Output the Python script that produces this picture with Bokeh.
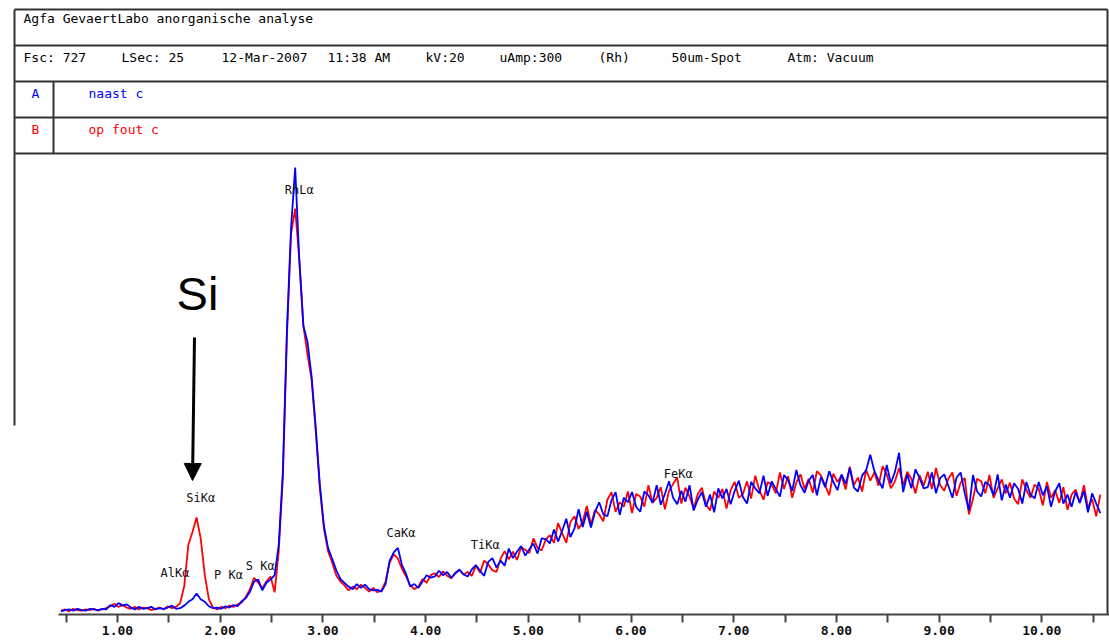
import numpy as np
from bokeh.plotting import figure
from bokeh.models import ColumnDataSource, Range1d, FixedTicker, Arrow, NormalHead, PrintfTickFormatter
from bokeh.core.properties import value
from bokeh.embed import file_html
from bokeh.resources import INLINE

# ---------------- data ----------------
energy = list(np.round(0.45 + 0.04 * np.arange(254), 2))  # keV channel grid

# A : "naast c" (blue)
counts_a = [
    5, 7, 8, 6, 9, 7, 6, 9, 8, 7, 9, 8,
    15, 12, 18, 14, 16,
    11, 8, 12, 9, 10, 12, 8, 10, 9,
    11, 14, 9, 10,
    14, 20, 24, 33, 24, 20, 13, 10, 11,
    9, 13, 11, 15, 13, 21, 26, 36, 52, 55, 38, 50, 55, 62,
    110, 225, 450, 610, 705, 560, 455, 430, 375, 295, 205,
    140, 105, 88, 70, 56, 50, 44, 40, 48, 42, 47, 40, 38, 39, 36,
    48, 85, 98, 105, 78, 64, 44, 48, 42, 52, 62, 58,
    60, 69, 62, 67, 58, 65, 71, 63, 60, 71,
    78, 69, 61, 83, 89, 74, 85, 77, 104, 89,
    99, 108, 93, 103, 112, 96, 120, 119, 112, 134,
    115, 132, 151, 122, 136, 166, 138, 162, 137, 162,
    177, 158, 155, 180, 193, 157, 184, 177, 193, 170,
    162, 194, 188, 176, 204, 173, 190, 210, 184, 174,
    195, 178, 204, 164, 181, 193, 170, 189, 161, 199,
    183, 198, 174, 195, 211, 185, 175, 209, 199, 191,
    219, 187, 210, 198, 186, 220, 212, 195, 228, 204,
    192, 211, 220, 188, 217, 201, 226, 209, 196, 221,
    206, 231, 200, 194, 219, 228, 252, 226, 212, 199,
    236, 207, 225, 255, 193, 221, 199, 229, 215, 199,
    201, 224, 191, 215, 221, 203, 184, 216, 224, 191,
    164, 220, 194, 186, 209, 204, 188, 221, 180, 205,
    184, 207, 198, 175, 209, 189, 183, 209, 188, 202,
    170, 194, 207, 175, 189, 170, 193, 176, 195, 161,
    191, 175, 160,
]

# B : "op fout c" (red)
counts_b = [
    6, 8, 5, 9, 7, 6, 8, 7, 9, 6, 8, 10,
    13, 17, 12, 15, 11,
    9, 12, 8, 11, 10, 7, 9, 11, 8,
    13, 10, 12, 18,
    45, 110, 130, 153, 120, 62, 24, 11, 8,
    12, 10, 14, 12, 16, 19, 28, 40, 58, 50, 42, 52, 60, 35,
    100, 215, 440, 600, 640, 560, 455, 410, 370, 290, 200,
    135, 100, 82, 62, 52, 46, 38, 44, 40, 47, 42, 36, 42, 35, 38,
    52, 82, 95, 88, 72, 60, 46, 40, 44, 56, 50, 62,
    65, 59, 68, 61, 57, 66, 70, 63, 67, 61,
    77, 66, 85, 79, 70, 67, 88, 100, 87, 99,
    86, 106, 102, 97, 120, 105, 101, 118, 125, 113,
    144, 128, 113, 146, 155, 135, 147, 171, 142, 165,
    158, 147, 181, 193, 162, 177, 170, 194, 160, 190,
    186, 170, 204, 176, 184, 201, 166, 195, 206, 216,
    175, 200, 186, 167, 190, 200, 174, 164, 194, 184,
    198, 167, 196, 209, 184, 190, 210, 183, 219, 196,
    181, 209, 205, 191, 224, 198, 218, 184, 208, 221,
    198, 214, 192, 226, 219, 204, 188, 222, 209, 219,
    197, 233, 204, 216, 194, 228, 211, 224, 203, 234,
    221, 199, 210, 231, 204, 225, 214, 191, 220, 203,
    225, 198, 231, 204, 195, 214, 224, 187, 208, 215,
    158, 182, 214, 210, 191, 220, 184, 199, 213, 191,
    208, 183, 174, 213, 196, 184, 205, 198, 172, 209,
    184, 196, 176, 201, 165, 189, 197, 176, 204, 168,
    182, 155, 189,
]

peak_names = ["RhLα", "SiKα", "AlKα", "P Kα", "S Kα", "CaKα", "TiKα", "FeKα"]
peak_energy = [2.77, 1.81, 1.56, 2.08, 2.39, 3.76, 4.58, 6.46]
peak_label_counts = [669, 183, 66, 63, 76, 129, 109, 222]

x_ticks = [1, 2, 3, 4, 5, 6, 7, 8, 9, 10]
x_minor_ticks = [0.5, 1.5, 2.5, 3.5, 4.5, 5.5, 6.5, 7.5, 8.5, 9.5, 10.5]
full_scale = 727

header_title = "Agfa GevaertLabo anorganische analyse"
header_fields = ["Fsc: 727", "LSec: 25", "12-Mar-2007", "11:38 AM", "kV:20",
                 "uAmp:300", "(Rh)", "50um-Spot", "Atm: Vacuum"]
sample_ids = ["A", "B"]
sample_names = ["naast c", "op fout c"]
sample_colors = ["#0000ff", "#ff0000"]
annotation_text = "Si"

# ---------------- layout helpers (page pixel -> data) ----------------
PX_PER_KEV = 102.7
PX_PER_COUNT = 461 / full_scale


def ex(px):
    return 1 + (px - 117) / PX_PER_KEV


def cy(py):
    return (614 - py) / PX_PER_COUNT


W, H = 1109, 644
p = figure(width=W, height=H, output_backend="svg", toolbar_location=None,
           x_range=Range1d(ex(0), ex(W)), y_range=Range1d(0, cy(0)),
           y_axis_location=None, min_border_left=0, min_border_right=0,
           min_border_top=0, min_border_bottom=H - 614)
p.outline_line_color = None
p.xgrid.visible = False
p.ygrid.visible = False
p.background_fill_color = "white"
p.border_fill_color = "white"

# x axis
ax = p.xaxis[0]
ax.ticker = FixedTicker(ticks=x_ticks, minor_ticks=x_minor_ticks)
ax.formatter = PrintfTickFormatter(format="%.2f")
ax.bounds = (ex(58), ex(W))
ax.axis_line_color = "#444444"
ax.axis_line_width = 2
ax.major_tick_line_color = "#444444"
ax.major_tick_line_width = 2
ax.minor_tick_line_color = "#444444"
ax.minor_tick_line_width = 2
ax.major_tick_in = 0
ax.major_tick_out = 8
ax.minor_tick_in = 0
ax.minor_tick_out = 8
ax.major_label_standoff = 3
ax.major_label_text_font = "DejaVu Sans Mono"
ax.major_label_text_font_size = "13px"
ax.major_label_text_font_style = "bold"
ax.major_label_text_color = "#111111"

# header frame
L, R = ex(14), ex(1107)
hl_y = [cy(9), cy(45), cy(81), cy(117), cy(153)]
seg_x0 = [L] * 5 + [L, R, ex(53)]
seg_x1 = [R] * 5 + [L, R, ex(53)]
seg_y0 = hl_y + [cy(9), cy(9), cy(81)]
seg_y1 = hl_y + [cy(425), 0, cy(153)]
p.segment(seg_x0, seg_y0, seg_x1, seg_y1, line_color="#333333", line_width=2)

mono = value("DejaVu Sans Mono")
p.text(x=[ex(23)], y=[cy(18)], text=[header_title], text_font=mono,
       text_font_size="13px", text_baseline="middle", text_align="left", text_color="black")
field_px = [23, 121, 221, 327, 425, 499, 598, 671, 787]
p.text(x=[ex(v) for v in field_px], y=[cy(57)] * len(header_fields), text=header_fields,
       text_font=mono, text_font_size="13px", text_baseline="middle",
       text_align="left", text_color="black")
row_py = [93, 129]
p.text(x=[ex(35)] * 2, y=[cy(v) for v in row_py], text=sample_ids, text_font=mono,
       text_font_size="13px", text_baseline="middle", text_align="center",
       text_color=sample_colors)
p.text(x=[ex(88)] * 2, y=[cy(v) for v in row_py], text=sample_names, text_font=mono,
       text_font_size="13px", text_baseline="middle", text_align="left",
       text_color=sample_colors)

# spectra
src = ColumnDataSource(dict(energy=energy, a=counts_a, b=counts_b))
p.line("energy", "b", source=src, line_color="#ff0000", line_width=1.8)
p.line("energy", "a", source=src, line_color="#0000ff", line_width=1.8)

# peak labels
p.text(x=peak_energy, y=peak_label_counts, text=peak_names, text_font=mono,
       text_font_size="12px", text_baseline="middle", text_align="center",
       text_color="#111111")

# Si annotation
p.text(x=[ex(197)], y=[cy(293)], text=[annotation_text], text_font=value("Liberation Sans"),
       text_font_size="47px", text_baseline="middle", text_align="center", text_color="black")
p.add_layout(Arrow(end=NormalHead(size=17, fill_color="black", line_color="black"),
                   x_start=ex(194), y_start=cy(337), x_end=ex(192), y_end=cy(480),
                   line_width=3, line_color="black"))

open("out.html", "w").write(file_html(p, INLINE, title="XRF spectrum"))
